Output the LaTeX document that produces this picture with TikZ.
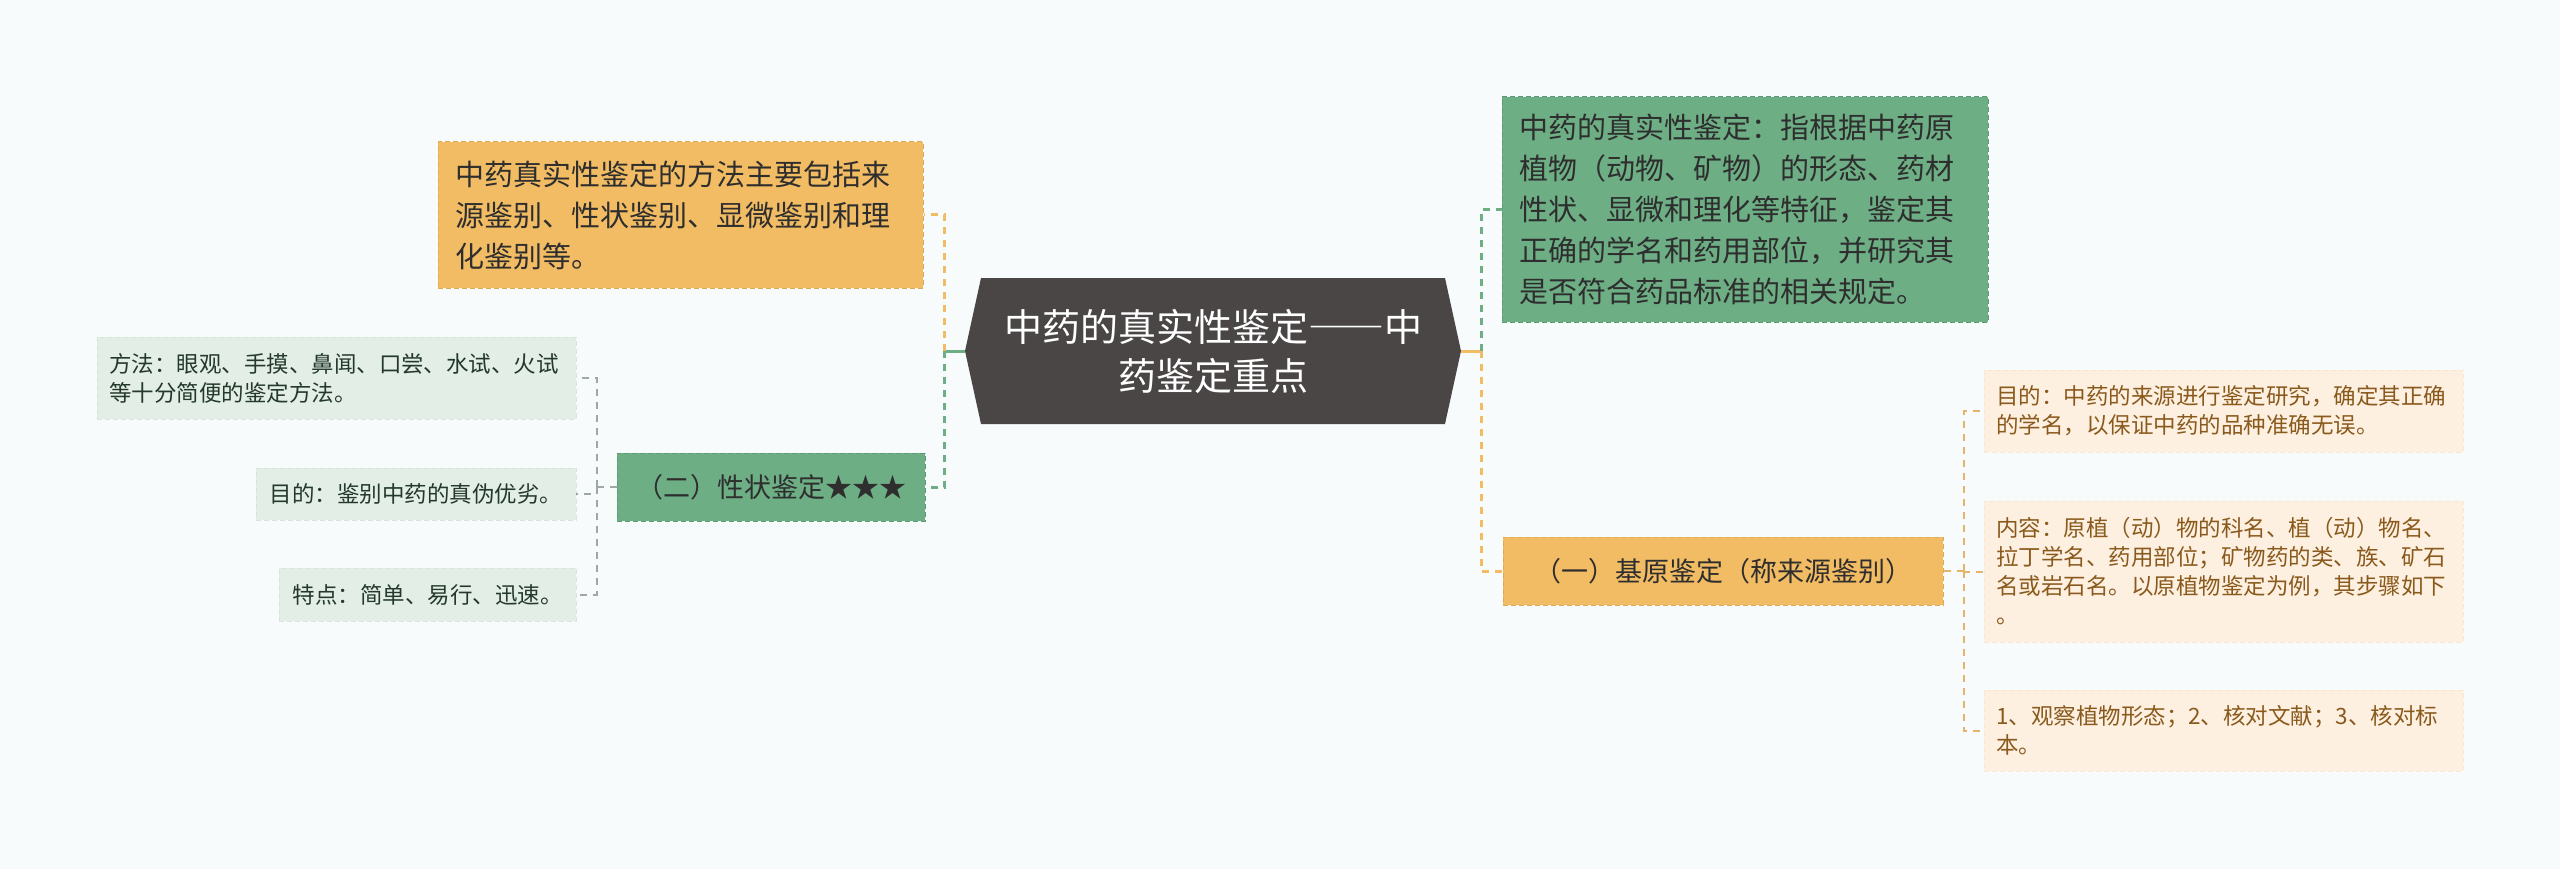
\documentclass[tikz,border=0pt]{standalone}
\usepackage{fontspec}
\setmainfont{Noto Sans CJK SC}
\definecolor{bgc}{HTML}{F7FBFB}
\definecolor{hubc}{HTML}{4A4646}
\definecolor{orgc}{HTML}{F2BC64}
\definecolor{orgd}{HTML}{E0AA55}
\definecolor{grnc}{HTML}{6DAE85}
\definecolor{grnd}{HTML}{5C9C74}
\definecolor{lgrc}{HTML}{E3EEE6}
\definecolor{lorc}{HTML}{FDF0E1}
\definecolor{ltxt}{HTML}{24392B}
\definecolor{rtxt}{HTML}{8A5A1C}
\definecolor{dtxt}{HTML}{2E2E2E}
\definecolor{gline}{HTML}{9FA9A3}
\definecolor{oline}{HTML}{E4B46A}
\begin{document}
\begin{tikzpicture}[x=1pt,y=-1pt,
    hubtext/.style={text=white,font=\fontsize{38}{49}\selectfont,align=center,inner sep=0pt},
    mainbox/.style={dash pattern=on 5pt off 3pt,line width=1pt,text=dtxt,align=left,
      font=\fontsize{29}{41}\selectfont,inner xsep=17pt,inner ysep=0pt},
    subbox/.style={dash pattern=on 5pt off 3pt,line width=1pt,text=dtxt,
      font=\fontsize{27}{34}\selectfont,inner sep=0pt},
    leafbox/.style={align=left,font=\fontsize{22.5}{29}\selectfont,inner xsep=12pt,inner ysep=0pt,
      dash pattern=on 5pt off 3pt,line width=0.8pt},
    link/.style={line width=3pt,dash pattern=on 7pt off 6pt},
    leaflink/.style={line width=2pt,dash pattern=on 7pt off 6pt}]
    \useasboundingbox (0,0) rectangle (2560,869);
    \fill[bgc] (0,0) rectangle (2560,869);

    % centre
    \fill[hubc] (981,278) -- (1445,278) -- (1461,351) -- (1445,424) -- (981,424) -- (965,351) -- cycle;
    \node[hubtext, minimum width=496pt, minimum height=146pt] (hub) at (1213,351)
        {中药的真实性鉴定{\addfontfeatures{RawFeature=+fwid}——}中\\药鉴定重点};

    \node[mainbox, draw=orgd, fill=orgc, minimum height=146pt, text width=451pt] (tl) at (680.5,215)
        {中药真实性鉴定的方法主要包括来\\源鉴别、性状鉴别、显微鉴别和理\\化鉴别等。};
    \node[mainbox, draw=grnd, fill=grnc, minimum height=225pt, text width=452pt] (tr) at (1745,209.5)
        {中药的真实性鉴定：指根据中药原\\植物（动物、矿物）的形态、药材\\性状、显微和理化等特征，鉴定其\\正确的学名和药用部位，并研究其\\是否符合药品标准的相关规定。};
    \node[subbox, draw=grnd, fill=grnc, minimum width=308pt, minimum height=68pt] (sL) at (771,487)
        {（二）性状鉴定★★★};
    \node[subbox, draw=orgd, fill=orgc, minimum width=440pt, minimum height=68pt] (sR) at (1723,571)
        {（一）基原鉴定（称来源鉴别）};

    % left leaves
    \node[leafbox, fill=lgrc, draw=lgrc!85!gline, text=ltxt, text width=455pt, minimum height=82pt] (l1) at (336.5,378)
        {方法：眼观、手摸、鼻闻、口尝、水试、火试\\等十分简便的鉴定方法。};
    \node[leafbox, fill=lgrc, draw=lgrc!85!gline, text=ltxt, minimum width=320pt, minimum height=52pt] (l2) at (416,494)
        {目的：鉴别中药的真伪优劣。};
    \node[leafbox, fill=lgrc, draw=lgrc!85!gline, text=ltxt, minimum width=297pt, minimum height=53pt] (l3) at (427.5,594.5)
        {特点：简单、易行、迅速。};

    % right leaves
    \node[leafbox, fill=lorc, draw=lorc!85!oline, text=rtxt, text width=455pt, minimum height=82pt] (r1) at (2223.5,411)
        {目的：中药的来源进行鉴定研究，确定其正确\\的学名，以保证中药的品种准确无误。};
    \node[leafbox, fill=lorc, draw=lorc!85!oline, text=rtxt, text width=455pt, minimum height=141pt] (r2) at (2223.5,571.5)
        {内容：原植（动）物的科名、植（动）物名、\\拉丁学名、药用部位；矿物药的类、族、矿石\\名或岩石名。以原植物鉴定为例，其步骤如下\\。};
    \node[leafbox, fill=lorc, draw=lorc!85!oline, text=rtxt, text width=455pt, minimum height=81pt] (r3) at (2223.5,730.5)
        {1、观察植物形态；2、核对文献；3、核对标\\本。};

    % links
    \draw[grnc, line width=3pt] (hub.west) -- ++(-20,0) coordinate (jL);
    \draw[link, orgc] (jL) |- (tl.east);
    \draw[link, grnc] (jL) |- (sL.east);
    \draw[orgc, line width=3pt] (hub.east) -- ++(20,0) coordinate (jR);
    \draw[link, grnc] (jR) |- (tr.west);
    \draw[link, orgc] (jR) |- (sR.west);

    \draw[leaflink, gline] (sL.west) -- ++(-20,0) coordinate (kL);
    \foreach \n in {l1,l2,l3} \draw[leaflink, gline] (kL) |- (\n.east);
    \draw[leaflink, oline] (sR.east) -- ++(20,0) coordinate (kR);
    \foreach \n in {r1,r2,r3} \draw[leaflink, oline] (kR) |- (\n.west);
\end{tikzpicture}
\end{document}
